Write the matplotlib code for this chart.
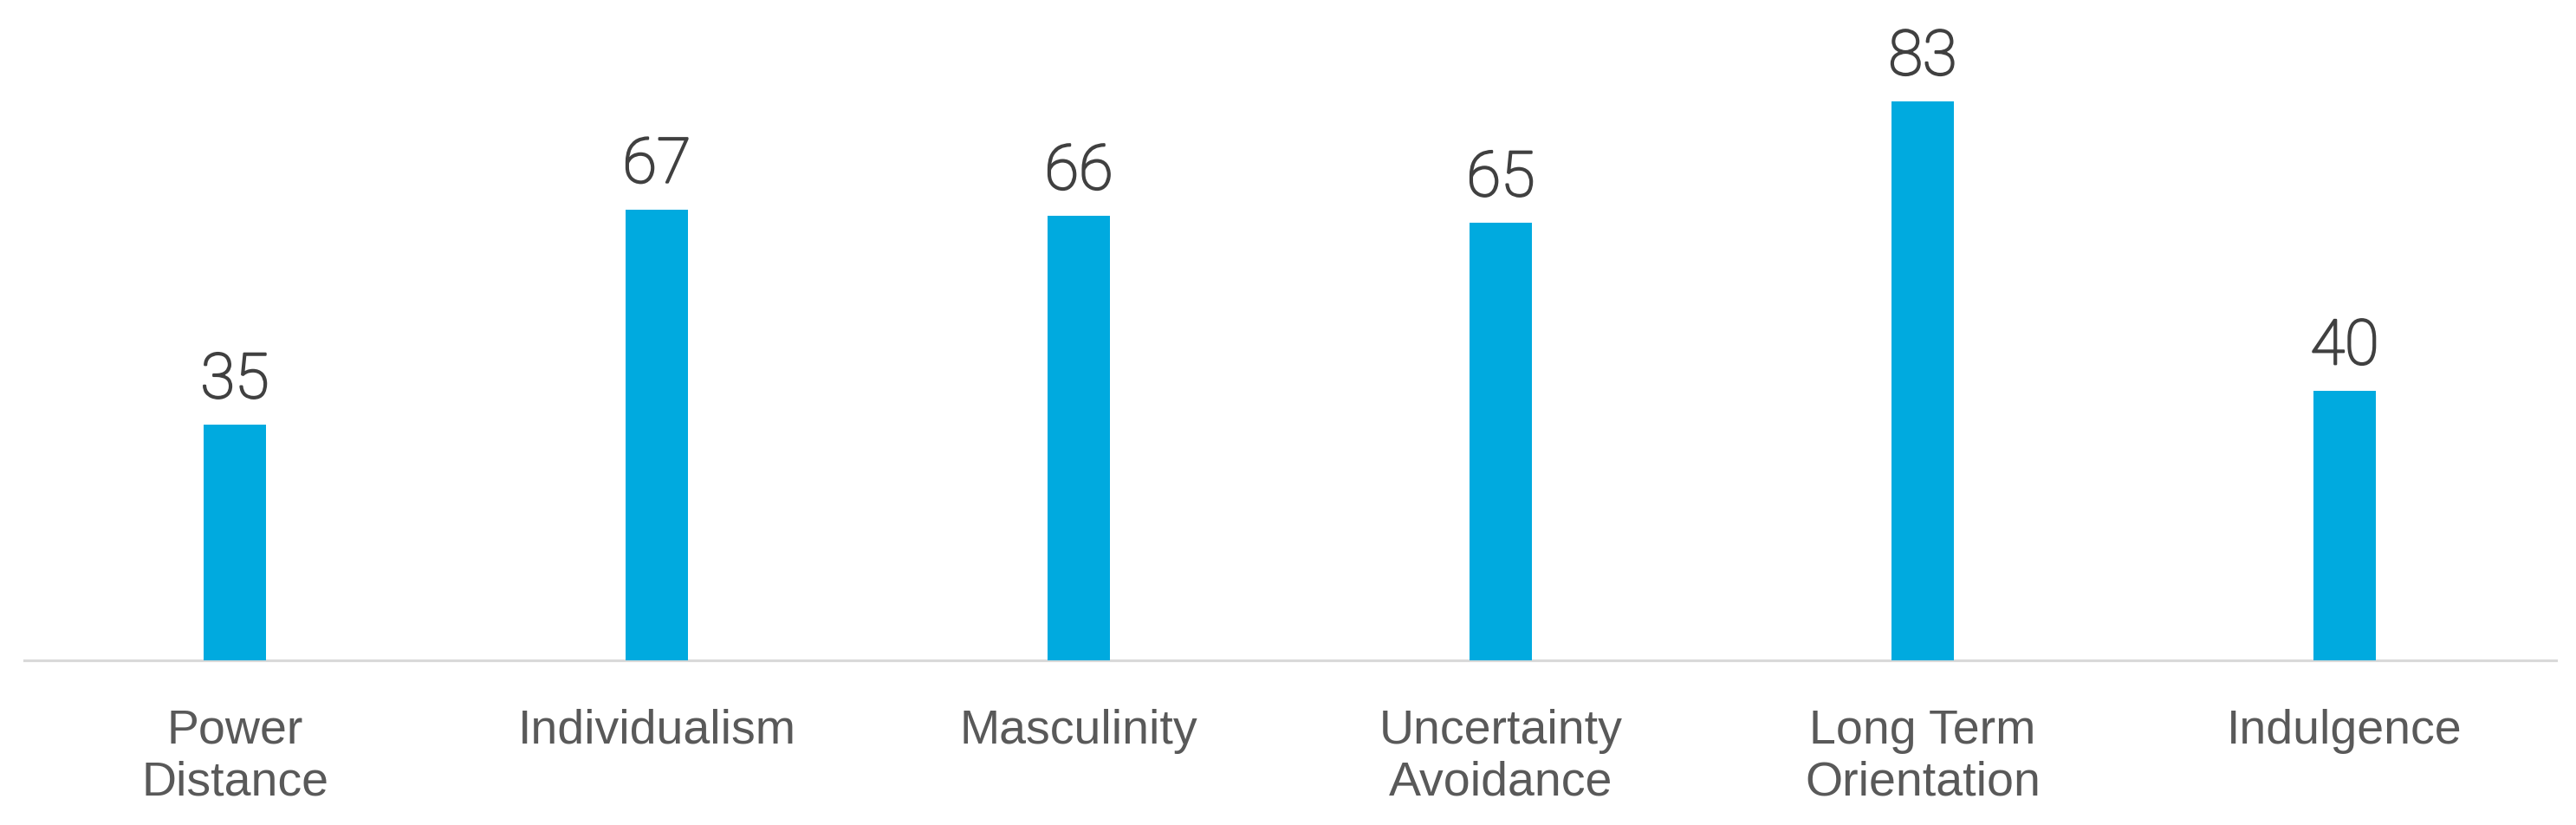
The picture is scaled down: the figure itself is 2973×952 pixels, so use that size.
import matplotlib
matplotlib.use("Agg")
import matplotlib.pyplot as plt
import matplotlib.patheffects as pe
from matplotlib import font_manager

categories = ["Power\nDistance", "Individualism", "Masculinity",
              "Uncertainty\nAvoidance", "Long Term\nOrientation", "Indulgence"]
values = [35, 67, 66, 65, 83, 40]

names = {f.name for f in font_manager.fontManager.ttflist}
num_family = "Roboto" if "Roboto" in names else "DejaVu Sans"
cat_family = "Liberation Sans" if "Liberation Sans" in names else "DejaVu Sans"

W, H, DPI = 2973, 952, 100
fig = plt.figure(figsize=(W / DPI, H / DPI), dpi=DPI)
base_frac = (952 - 762) / 952
ax = fig.add_axes([27.5 / W, base_frac, (2949.5 - 27.5) / W, 1 - base_frac])

x = list(range(len(categories)))
ax.bar(x, values, width=0.148, color="#00AADF", zorder=3)
ax.set_xlim(-0.5, 5.5)
ax.set_ylim(0, 98.1)

num_color = "#404040"
for xi, v in zip(x, values):
    ax.annotate(str(v), (xi, v), xytext=(0, 31), textcoords="offset pixels",
                ha="center", va="baseline", fontsize=52, color=num_color,
                family=num_family, fontweight="light",
                path_effects=[pe.withStroke(linewidth=1.6, foreground=num_color)])

for s in ["top", "right", "left"]:
    ax.spines[s].set_visible(False)
ax.spines["bottom"].set_color("#D9D9D9")
ax.spines["bottom"].set_linewidth(2.2)
ax.set_yticks([])
ax.set_xticks(x)
ax.set_xticklabels(categories, fontsize=40, color="#595959", family=cat_family,
                   linespacing=1.2, va="top")
ax.tick_params(axis="x", length=0, pad=40)

fig.savefig("out.png", dpi=DPI, facecolor="white")
